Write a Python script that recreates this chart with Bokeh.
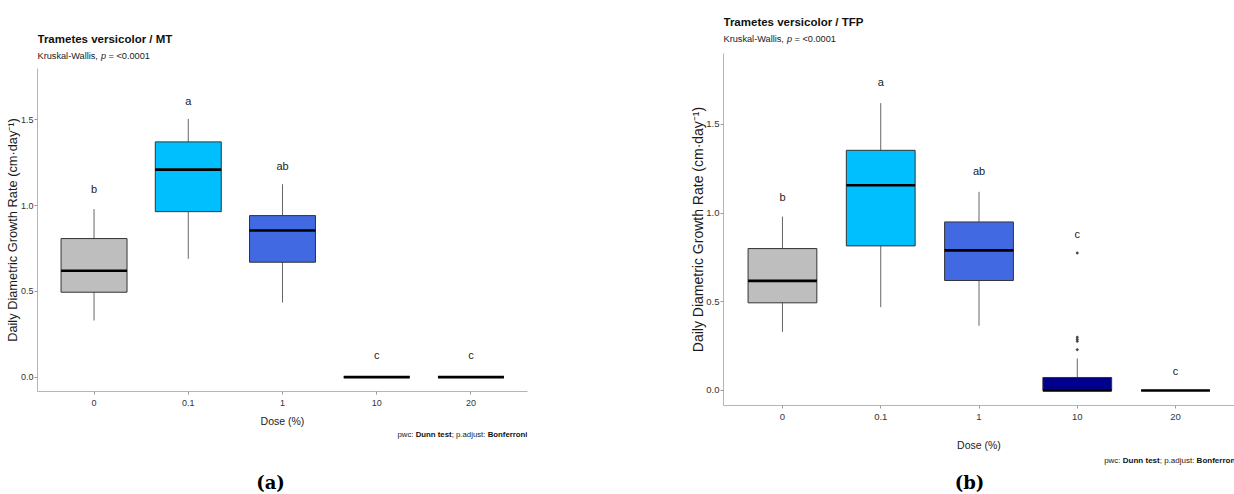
from bokeh.plotting import figure
from bokeh.models import Range1d, FixedTicker, PrintfTickFormatter, Label
from bokeh.layouts import row, column
from bokeh.core.properties import value
from bokeh.embed import file_html
from bokeh.resources import INLINE

# ---------------- data ----------------
doses = ["0", "0.1", "1", "10", "20"]
fill_colors = ["#BEBEBE", "#00BFFF", "#4169E1", "#00008B", "#191970"]

# Panel (a) Trametes versicolor / MT  (five-number summaries)
mt_lower = [0.33, 0.69, 0.435, 0.0, 0.0]
mt_q1 = [0.495, 0.965, 0.67, 0.0, 0.0]
mt_median = [0.62, 1.21, 0.855, 0.0, 0.0]
mt_q3 = [0.808, 1.372, 0.942, 0.0, 0.0]
mt_upper = [0.98, 1.506, 1.125, 0.0, 0.0]
mt_letters = ["b", "a", "ab", "c", "c"]
mt_letter_y = [1.10, 1.61, 1.23, 0.13, 0.13]

# Panel (b) Trametes versicolor / TFP
tfp_lower = [0.33, 0.47, 0.365, 0.0, 0.0]
tfp_q1 = [0.494, 0.815, 0.62, 0.0, 0.0]
tfp_median = [0.618, 1.157, 0.79, 0.0, 0.0]
tfp_q3 = [0.80, 1.354, 0.95, 0.073, 0.0]
tfp_upper = [0.98, 1.62, 1.12, 0.18, 0.0]
tfp_letters = ["b", "a", "ab", "c", "c"]
tfp_letter_y = [1.09, 1.74, 1.236, 0.88, 0.11]
tfp_outlier_dose = ["10", "10", "10", "10", "10"]
tfp_outlier_y = [0.23, 0.277, 0.288, 0.30, 0.775]

y_ticks = [0.0, 0.5, 1.0, 1.5]
y_label = "Daily Diametric Growth Rate (cm\u00b7day\u207b\u00b9)"
x_label = "Dose (%)"

SANS = "Liberation Sans"
SERIF = "DejaVu Serif"
BOX_W = 0.7


def put(p, x, y, text, size, dx=0, style="normal", align="left", font=SANS,
        color="#1a1a1a", baseline="middle"):
    p.add_layout(Label(x=x, y=y, x_offset=dx, text=text, text_font=font,
                       text_font_size=f"{size}px", text_font_style=style,
                       text_align=align, text_baseline=baseline, text_color=color))


def text_fig(width, height, x_range):
    t = figure(width=width, height=height, x_range=x_range,
               y_range=Range1d(0, height), min_border=0, x_axis_location=None,
               y_axis_location=None, toolbar_location=None, output_backend="svg",
               title=None)
    t.outline_line_color = None
    t.xgrid.visible = False
    t.ygrid.visible = False
    return t


def panel(width, height, xr, yr, mb, tick_size, ylab_size, xl_standoff, yl_standoff,
          lower, q1, med, q3, upper, letters, letter_y):
    p = figure(width=width, height=height, x_range=Range1d(*xr), y_range=Range1d(*yr),
               min_border_left=mb[0], min_border_right=mb[1], min_border_top=mb[2],
               min_border_bottom=mb[3], toolbar_location=None, output_backend="svg",
               title=None)
    p.outline_line_color = None
    p.xgrid.visible = False
    p.ygrid.visible = False

    xs = list(range(len(doses)))
    p.segment(x0=xs, x1=xs, y0=q3, y1=upper, line_color="#666666", line_width=1)
    p.segment(x0=xs, x1=xs, y0=lower, y1=q1, line_color="#666666", line_width=1)
    p.vbar(x=xs, width=BOX_W, bottom=q1, top=q3, fill_color=fill_colors,
           line_color="#333333", line_width=1)
    p.segment(x0=[x - BOX_W / 2 for x in xs], x1=[x + BOX_W / 2 for x in xs],
              y0=med, y1=med, line_color="black", line_width=2.6)
    p.text(x=xs, y=letter_y, text=letters, text_font=value(SANS),
           text_font_size=value("11px"), text_align="center", text_baseline="middle",
           text_color="#222222")

    for ax in (p.xaxis[0], p.yaxis[0]):
        ax.axis_line_color = "#b5b5b5"
        ax.axis_line_width = 1
        ax.major_tick_line_color = "#9a9a9a"
        ax.major_tick_out = 3
        ax.major_tick_in = 0
        ax.minor_tick_line_color = None
        ax.major_label_text_font = SANS
        ax.major_label_text_font_size = f"{tick_size}px"
        ax.major_label_text_color = "#333333"
        ax.axis_label_text_font_style = "normal"
        ax.axis_label_text_color = "#1a1a1a"

    p.xaxis.ticker = FixedTicker(ticks=xs)
    p.xaxis.major_label_overrides = {i: d for i, d in enumerate(doses)}
    p.xaxis.major_label_standoff = 5
    p.xaxis.axis_label = x_label
    p.xaxis.axis_label_text_font = SANS
    p.xaxis.axis_label_text_font_size = "10.5px"
    p.xaxis.axis_label_standoff = xl_standoff

    p.yaxis.ticker = FixedTicker(ticks=y_ticks)
    p.yaxis.formatter = PrintfTickFormatter(format="%.1f")
    p.yaxis.major_label_standoff = 1
    p.yaxis.axis_label = y_label
    p.yaxis.axis_label_text_font = SANS
    p.yaxis.axis_label_text_font_size = f"{ylab_size}px"
    p.yaxis.axis_label_standoff = yl_standoff
    return p


def headings(t, title, title_y, sub_y, title_size, sub_size):
    x0 = t.x_range.start
    put(t, x0, title_y, title, title_size, style="bold", color="#111111")
    k = sub_size
    put(t, x0, sub_y, "Kruskal-Wallis,", sub_size)
    put(t, x0, sub_y, "p", sub_size, dx=6.889 * k, style="italic")
    put(t, x0, sub_y, "= <0.0001", sub_size, dx=7.723 * k)


def caption(t, right_dx, y, size):
    k = size
    x1 = t.x_range.end
    s = right_dx - (2.334 + 4.611 + 4.614 + 5.111) * k
    put(t, x1, y, "pwc:", size, dx=s)
    put(t, x1, y, "Dunn test", size, dx=s + 2.334 * k, style="bold", color="#111111")
    put(t, x1, y, ";", size, dx=s + 6.945 * k)
    put(t, x1, y, "p.adjust:", size, dx=s + 7.501 * k)
    put(t, x1, y, "Bonferroni", size, dx=s + 11.559 * k, style="bold", color="#111111")


# ---------------- panel (a) ----------------
pa = panel(620, 361, (-0.6, 4.6), (-0.084, 1.80), (37, 93, 0, 37), 9, 12.8, 6, -2,
           mt_lower, mt_q1, mt_median, mt_q3, mt_upper, mt_letters, mt_letter_y)
ta = text_fig(620, 68, pa.x_range)
headings(ta, "Trametes versicolor / MT", 30, 13, 11.5, 9.2)
ba = text_fig(620, 63, pa.x_range)
caption(ba, 0, 58.5, 7.8)
put(ba, pa.x_range.start, 10, "(a)", 18, dx=233, style="bold", align="center",
    font=SERIF, color="#000000")

# ---------------- panel (b) ----------------
pb = panel(614, 400, (-0.6, 4.6), (-0.085, 1.90), (103, 0, 0, 48), 9.5, 14, 16, -3,
           tfp_lower, tfp_q1, tfp_median, tfp_q3, tfp_upper, tfp_letters, tfp_letter_y)
pb.scatter(x=[doses.index(d) for d in tfp_outlier_dose], y=tfp_outlier_y, size=2,
           color="#444444")
tb = text_fig(614, 53, pb.x_range)
headings(tb, "Trametes versicolor / TFP", 32, 15, 11.5, 9.2)
bb = text_fig(614, 39, pb.x_range)
caption(bb, 3, 32, 8)
put(bb, pb.x_range.start, 10, "(b)", 18, dx=246, style="bold", align="center",
    font=SERIF, color="#000000")

layout = row(column(ta, pa, ba), column(tb, pb, bb))
open("out.html", "w").write(file_html(layout, INLINE))
